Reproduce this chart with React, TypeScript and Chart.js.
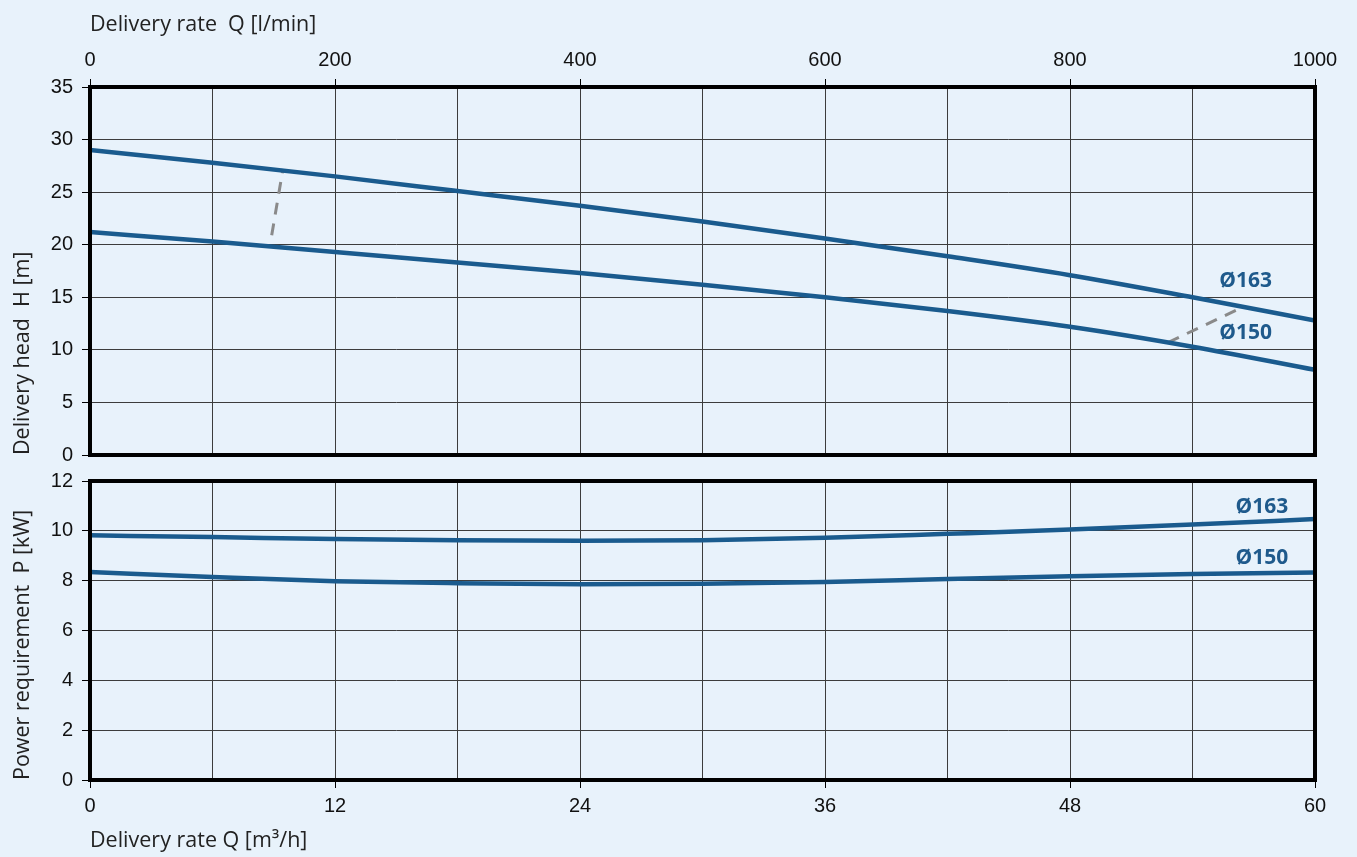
import React, { useEffect, useRef } from 'react';
import { Chart, registerables } from 'chart.js';

Chart.register(...registerables);

// ---- data ----
const flowM3h = [0, 6, 12, 18, 24, 30, 36, 42, 48, 54, 60];
const head163 = [29.0, 27.8, 26.5, 25.1, 23.7, 22.2, 20.6, 18.9, 17.1, 15.0, 12.8];
const head150 = [21.2, 20.3, 19.3, 18.3, 17.3, 16.2, 15.0, 13.7, 12.2, 10.3, 8.1];
const power163 = [9.82, 9.75, 9.67, 9.62, 9.6, 9.62, 9.72, 9.88, 10.05, 10.25, 10.47];
const power150 = [8.35, 8.15, 7.98, 7.9, 7.86, 7.88, 7.95, 8.07, 8.18, 8.27, 8.33];

const dashLeftQ = [8.9, 9.45];
const dashLeftH = [20.9, 27.2];
const dashRightQ = [52.8, 56.5];
const dashRightH = [10.7, 14.1];

const lpmTickLabels = ['0', '200', '400', '600', '800', '1000'];
const m3hTickLabels = ['0', '12', '24', '36', '48', '60'];

const diameterLabels = ['Ø163', 'Ø150'];
const headLabelQ = [56.6, 56.6];
const headLabelH = [16.5, 11.6];
const powerLabelQ = [57.4, 57.4];
const powerLabelP = [10.96, 8.92];

// ---- styles ----
const BG = '#e8f2fb';
const LINE = '#1a5b8e';
const LABEL = '#1f5a8c';
const GRID = '#3c3c3c';
const TICK_FONT = { family: '"Liberation Sans", Arial, sans-serif', size: 20 };
const TITLE_FONT = { family: '"Open Sans", "Noto Sans", sans-serif', size: 21.5 };

const toPts = (xs: number[], ys: number[]) => xs.map((x, i) => ({ x, y: ys[i] }));

const framePlugin = {
  id: 'frame',
  afterDatasetsDraw(chart: any) {
    const { ctx, chartArea } = chart;
    const { left, top, right, bottom } = chartArea;
    ctx.save();
    ctx.lineWidth = 4;
    ctx.strokeStyle = '#000';
    ctx.strokeRect(left, top, right - left, bottom - top);
    ctx.restore();
  },
};

const curveLabelPlugin = {
  id: 'curveLabels',
  afterDatasetsDraw(chart: any, _args: any, opts: any) {
    if (!opts || !opts.items) return;
    const { ctx, scales } = chart;
    ctx.save();
    ctx.fillStyle = LABEL;
    ctx.font = 'bold 21px "Open Sans", "Noto Sans", sans-serif';
    ctx.textAlign = 'center';
    ctx.textBaseline = 'middle';
    opts.items.forEach((it: any) => {
      ctx.fillText(it.text, scales.x.getPixelForValue(it.x), scales.y.getPixelForValue(it.y));
    });
    ctx.restore();
  },
};

const xTickColor = (c: any) =>
  c.tick && Math.round(c.tick.value) % 12 === 0 ? '#000' : 'rgba(0,0,0,0)';

function lineDs(data: { x: number; y: number }[]) {
  return {
    data,
    borderColor: LINE,
    borderWidth: 4.5,
    pointRadius: 0,
    cubicInterpolationMode: 'monotone' as const,
    fill: false,
  };
}

function dashDs(data: { x: number; y: number }[]) {
  return {
    data,
    borderColor: '#8a8a8a',
    borderWidth: 3,
    borderDash: [12, 9],
    pointRadius: 0,
    fill: false,
  };
}

export default function App() {
  const topRef = useRef<HTMLCanvasElement>(null);
  const botRef = useRef<HTMLCanvasElement>(null);

  useEffect(() => {
    const top = new Chart(topRef.current as HTMLCanvasElement, {
      type: 'line',
      data: {
        datasets: [
          lineDs(toPts(flowM3h, head163)),
          lineDs(toPts(flowM3h, head150)),
          dashDs(toPts(dashLeftQ, dashLeftH)),
          dashDs(toPts(dashRightQ, dashRightH)),
        ],
      },
      options: {
        responsive: false,
        animation: false,
        events: [],
        layout: { padding: { left: 0, right: 42, top: 0, bottom: 0 } },
        plugins: {
          legend: { display: false },
          tooltip: { enabled: false },
          curveLabels: {
            items: diameterLabels.map((t, i) => ({ text: t, x: headLabelQ[i], y: headLabelH[i] })),
          },
        } as any,
        scales: {
          x: {
            type: 'linear',
            position: 'top',
            min: 0,
            max: 60,
            afterFit: (s: any) => { s.height = 87; },
            ticks: {
              stepSize: 6,
              autoSkip: false,
              maxRotation: 0,
              padding: 7,
              color: '#111',
              font: TICK_FONT,
              callback: (v: any) => {
                const n = Math.round(Number(v));
                return n % 12 === 0 ? lpmTickLabels[n / 12] : '';
              },
            },
            grid: { color: GRID, lineWidth: 1, tickLength: 8, tickColor: xTickColor as any },
            border: { display: false },
            title: {
              display: true,
              text: 'Delivery rate  Q [l/min]',
              align: 'start',
              color: '#222',
              font: TITLE_FONT,
              padding: { top: 12, bottom: 0 },
            },
          },
          y: {
            type: 'linear',
            min: 0,
            max: 35,
            afterFit: (s: any) => { s.width = 90; },
            ticks: { stepSize: 5, padding: 9, color: '#111', font: TICK_FONT },
            grid: { color: GRID, lineWidth: 1, tickLength: 8, tickColor: '#000' },
            border: { display: false },
            title: {
              display: true,
              text: 'Delivery head  H [m]',
              align: 'start',
              color: '#222',
              font: TITLE_FONT,
              padding: { top: 10, bottom: 0 },
            },
          },
        },
      },
      plugins: [framePlugin, curveLabelPlugin],
    } as any);

    const bot = new Chart(botRef.current as HTMLCanvasElement, {
      type: 'line',
      data: {
        datasets: [lineDs(toPts(flowM3h, power163)), lineDs(toPts(flowM3h, power150))],
      },
      options: {
        responsive: false,
        animation: false,
        events: [],
        layout: { padding: { left: 0, right: 42, top: 0, bottom: 0 } },
        plugins: {
          legend: { display: false },
          tooltip: { enabled: false },
          curveLabels: {
            items: diameterLabels.map((t, i) => ({ text: t, x: powerLabelQ[i], y: powerLabelP[i] })),
          },
        } as any,
        scales: {
          x: {
            type: 'linear',
            position: 'bottom',
            min: 0,
            max: 60,
            afterFit: (s: any) => { s.height = 77; },
            ticks: {
              stepSize: 6,
              autoSkip: false,
              maxRotation: 0,
              padding: 6,
              color: '#111',
              font: TICK_FONT,
              callback: (v: any) => {
                const n = Math.round(Number(v));
                return n % 12 === 0 ? m3hTickLabels[n / 12] : '';
              },
            },
            grid: { color: GRID, lineWidth: 1, tickLength: 8, tickColor: xTickColor as any },
            border: { display: false },
            title: {
              display: true,
              text: 'Delivery rate Q [m³/h]',
              align: 'start',
              color: '#222',
              font: TITLE_FONT,
              padding: { top: 0, bottom: 3 },
            },
          },
          y: {
            type: 'linear',
            min: 0,
            max: 12,
            afterFit: (s: any) => { s.width = 90; },
            ticks: { stepSize: 2, padding: 9, color: '#111', font: TICK_FONT },
            grid: { color: GRID, lineWidth: 1, tickLength: 8, tickColor: '#000' },
            border: { display: false },
            title: {
              display: true,
              text: 'Power requirement  P [kW]',
              align: 'start',
              color: '#222',
              font: TITLE_FONT,
              padding: { top: 10, bottom: 0 },
            },
          },
        },
      },
      plugins: [framePlugin, curveLabelPlugin],
    } as any);

    return () => {
      top.destroy();
      bot.destroy();
    };
  }, []);

  return (
    <div
      style={{
        position: 'fixed',
        left: 0,
        top: 0,
        width: 1357,
        height: 857,
        background: BG,
        overflow: 'hidden',
      }}
    >
      <canvas
        ref={topRef}
        width={1357}
        height={476}
        style={{ display: 'block', position: 'absolute', left: 0, top: 0 }}
      />
      <canvas
        ref={botRef}
        width={1357}
        height={397}
        style={{ display: 'block', position: 'absolute', left: 0, top: 460 }}
      />
    </div>
  );
}
